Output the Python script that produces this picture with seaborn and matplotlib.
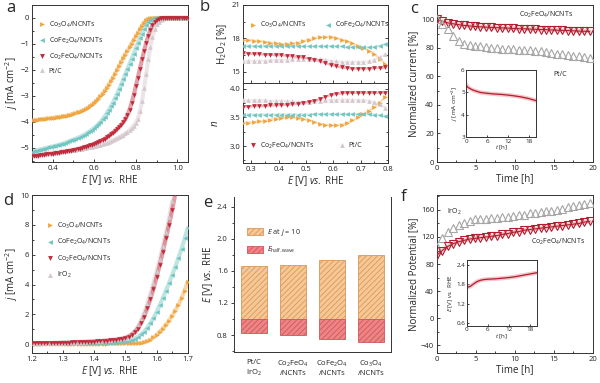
import numpy as np
import matplotlib
matplotlib.use("Agg")
import matplotlib.pyplot as plt
from matplotlib.ticker import AutoMinorLocator
from matplotlib.lines import Line2D
from matplotlib.patches import Patch
import seaborn as sns

# ---------------- data ----------------
cat_names = ["Co$_3$O$_4$/NCNTs", "CoFe$_2$O$_4$/NCNTs", "Co$_2$FeO$_4$/NCNTs", "Pt/C"]

# (a) ORR polarisation curves, E = 0.30 ... 1.05 V
E_orr = np.round(np.arange(0.30, 1.051, 0.01), 2)
j_orr_co3o4 = [-3.95, -3.94, -3.93, -3.92, -3.91, -3.90, -3.89, -3.88, -3.87, -3.86,
               -3.85, -3.84, -3.83, -3.82, -3.81, -3.79, -3.78, -3.76, -3.74, -3.72,
               -3.70, -3.67, -3.64, -3.61, -3.58, -3.55, -3.50, -3.45, -3.40, -3.34,
               -3.28, -3.20, -3.12, -3.02, -2.92, -2.82, -2.70, -2.58, -2.44, -2.30,
               -2.16, -2.01, -1.86, -1.71, -1.56, -1.41, -1.27, -1.13, -0.99, -0.85,
               -0.71, -0.57, -0.43, -0.30, -0.18, -0.09, -0.04, -0.02, -0.01, 0, 0, 0,
               0, 0, 0, 0, 0, 0, 0, 0, 0, 0, 0, 0, 0, 0]
j_orr_cofe2o4 = [-5.15, -5.13, -5.11, -5.09, -5.07, -5.05, -5.03, -5.01, -4.99, -4.97,
                 -4.95, -4.93, -4.91, -4.89, -4.86, -4.84, -4.81, -4.78, -4.75, -4.72,
                 -4.69, -4.66, -4.62, -4.59, -4.55, -4.51, -4.46, -4.41, -4.36, -4.30,
                 -4.24, -4.17, -4.09, -4.01, -3.91, -3.80, -3.68, -3.55, -3.41, -3.26,
                 -3.10, -2.93, -2.75, -2.56, -2.37, -2.17, -1.97, -1.77, -1.57, -1.37,
                 -1.17, -0.97, -0.78, -0.60, -0.43, -0.28, -0.16, -0.08, -0.04, -0.02,
                 -0.01, 0, 0, 0, 0, 0, 0, 0, 0, 0, 0, 0, 0, 0, 0, 0]
j_orr_co2feo4 = [-5.33, -5.32, -5.31, -5.30, -5.29, -5.28, -5.27, -5.26, -5.25, -5.24,
                 -5.23, -5.22, -5.21, -5.20, -5.18, -5.17, -5.15, -5.14, -5.12, -5.11,
                 -5.09, -5.07, -5.05, -5.03, -5.01, -4.99, -4.96, -4.94, -4.91, -4.88,
                 -4.85, -4.82, -4.78, -4.74, -4.70, -4.65, -4.60, -4.54, -4.48, -4.42,
                 -4.35, -4.27, -4.19, -4.11, -4.02, -3.90, -3.74, -3.53, -3.27, -2.97,
                 -2.64, -2.30, -1.95, -1.60, -1.27, -0.96, -0.69, -0.46, -0.28, -0.16,
                 -0.08, -0.04, -0.02, -0.01, 0, 0, 0, 0, 0, 0, 0, 0, 0, 0, 0, 0]
j_orr_ptc = [-5.28, -5.27, -5.26, -5.25, -5.24, -5.23, -5.22, -5.21, -5.20, -5.19,
             -5.18, -5.17, -5.16, -5.15, -5.14, -5.13, -5.12, -5.11, -5.10, -5.09,
             -5.08, -5.07, -5.06, -5.05, -5.04, -5.02, -5.01, -4.99, -4.98, -4.96,
             -4.94, -4.92, -4.90, -4.88, -4.86, -4.83, -4.80, -4.77, -4.74, -4.71,
             -4.67, -4.63, -4.59, -4.55, -4.50, -4.45, -4.39, -4.32, -4.24, -4.15,
             -4.04, -3.88, -3.60, -3.20, -2.70, -2.15, -1.60, -1.10, -0.72, -0.44,
             -0.25, -0.14, -0.08, -0.04, -0.02, -0.01, 0, 0, 0, 0, 0, 0, 0, 0, 0, 0]

# (b) RRDE: H2O2 yield and electron number, E = 0.27 ... 0.79 V
E_rrde = np.round(np.arange(0.27, 0.791, 0.02), 2)
h2o2_co3o4 = [17.9, 17.85, 17.8, 17.75, 17.7, 17.6, 17.55, 17.5, 17.5, 17.55, 17.6, 17.75,
              17.9, 18.0, 18.1, 18.15, 18.15, 18.05, 17.9, 17.75, 17.55, 17.35, 17.15,
              16.9, 16.6, 16.2, 15.7]
h2o2_cofe2o4 = [17.35, 17.35, 17.3, 17.3, 17.3, 17.3, 17.3, 17.3, 17.3, 17.3, 17.3, 17.3,
                17.3, 17.3, 17.3, 17.3, 17.3, 17.3, 17.3, 17.25, 17.25, 17.2, 17.2, 17.2,
                17.25, 17.35, 17.5]
h2o2_co2feo4 = [16.7, 16.65, 16.6, 16.6, 16.55, 16.55, 16.5, 16.5, 16.45, 16.4, 16.35, 16.3,
                16.2, 16.1, 15.95, 15.8, 15.65, 15.5, 15.4, 15.35, 15.3, 15.3, 15.3, 15.3,
                15.35, 15.35, 15.4]
h2o2_ptc = [16.0, 16.0, 16.0, 16.0, 16.0, 16.05, 16.05, 16.1, 16.1, 16.15, 16.2, 16.2,
            16.2, 16.2, 16.15, 16.1, 16.0, 15.95, 15.9, 15.9, 15.9, 15.9, 15.9, 15.95,
            16.1, 16.3, 16.6]
n_co3o4 = [3.41, 3.41, 3.42, 3.43, 3.44, 3.46, 3.48, 3.49, 3.50, 3.50, 3.49, 3.47, 3.45,
           3.42, 3.39, 3.37, 3.36, 3.36, 3.37, 3.40, 3.45, 3.50, 3.56, 3.62, 3.68, 3.76, 3.86]
n_cofe2o4 = [3.55, 3.55, 3.55, 3.55, 3.55, 3.55, 3.55, 3.55, 3.55, 3.55, 3.55, 3.55, 3.55,
             3.56, 3.56, 3.56, 3.56, 3.56, 3.56, 3.56, 3.56, 3.56, 3.56, 3.56, 3.55, 3.54, 3.52]
n_co2feo4 = [3.69, 3.69, 3.70, 3.70, 3.70, 3.71, 3.71, 3.72, 3.72, 3.73, 3.74, 3.75, 3.77,
             3.79, 3.82, 3.86, 3.89, 3.91, 3.92, 3.93, 3.93, 3.93, 3.93, 3.93, 3.93, 3.93, 3.93]
n_ptc = [3.80, 3.80, 3.80, 3.80, 3.80, 3.79, 3.79, 3.79, 3.78, 3.78, 3.77, 3.77, 3.77,
         3.78, 3.79, 3.80, 3.80, 3.81, 3.81, 3.81, 3.81, 3.80, 3.80, 3.79, 3.77, 3.73, 3.67]

# (c) ORR chronoamperometry, normalised current [%]
t_stab = np.round(np.arange(0, 19.61, 0.7), 1)
cur_co2feo4 = [100, 98.5, 97.5, 96.8, 96.2, 95.7, 95.3, 95.0, 94.7, 94.5, 94.3, 94.1, 93.9,
               93.8, 93.6, 93.4, 93.3, 93.1, 93.0, 92.8, 92.7, 92.5, 92.4, 92.2, 92.1, 91.9,
               91.7, 91.6, 91.5]
cur_ptc = [100, 97, 93, 88, 85, 83, 82, 81.5, 81, 80.5, 80, 80, 79.5, 79.5, 79, 78.8, 78.5,
           78.3, 78, 77.5, 77, 76.5, 76, 75.5, 75, 74.5, 74, 73.5, 73]
t_inset_c = [0, 0.3, 1, 2, 3, 4, 6, 8, 10, 12, 14, 16, 18, 20]
j_inset_c = [5.35, 5.25, 5.18, 5.10, 5.05, 5.00, 4.96, 4.93, 4.91, 4.88, 4.84, 4.79, 4.72, 4.63]

# (d) OER polarisation curves, E = 1.20 ... 1.70 V
E_oer = np.round(np.arange(1.20, 1.701, 0.01), 2)
j_oer_co3o4 = [0.04, 0.04, 0.04, 0.04, 0.04, 0.04, 0.04, 0.04, 0.04, 0.04,
               0.04, 0.04, 0.04, 0.04, 0.04, 0.04, 0.04, 0.04, 0.04, 0.04,
               0.04, 0.04, 0.04, 0.04, 0.04, 0.05, 0.05, 0.05, 0.05, 0.05,
               0.05, 0.05, 0.05, 0.06, 0.07, 0.08, 0.12, 0.20, 0.30, 0.45,
               0.62, 0.82, 1.05, 1.30, 1.58, 1.90, 2.25, 2.65, 3.10, 3.60, 4.20]
j_oer_cofe2o4 = [0.04, 0.04, 0.04, 0.05, 0.05, 0.05, 0.05, 0.05, 0.05, 0.06,
                 0.06, 0.06, 0.06, 0.06, 0.07, 0.07, 0.07, 0.07, 0.08, 0.08,
                 0.08, 0.08, 0.09, 0.09, 0.09, 0.10, 0.10, 0.11, 0.12, 0.13,
                 0.15, 0.20, 0.28, 0.38, 0.50, 0.65, 0.85, 1.10, 1.40, 1.75,
                 2.15, 2.60, 3.10, 3.60, 4.10, 4.65, 5.20, 5.80, 6.40, 7.10, 7.80]
j_oer_co2feo4 = [0.05, 0.05, 0.06, 0.06, 0.06, 0.07, 0.07, 0.08, 0.08, 0.09,
                 0.10, 0.10, 0.11, 0.12, 0.12, 0.13, 0.14, 0.15, 0.16, 0.17,
                 0.18, 0.19, 0.20, 0.22, 0.23, 0.25, 0.27, 0.29, 0.32, 0.37,
                 0.42, 0.50, 0.62, 0.80, 1.05, 1.40, 1.85, 2.40, 3.00, 3.70,
                 4.50, 5.30, 6.20, 7.10, 8.00, 9.00, 10.10]
j_oer_iro2 = [0.05, 0.06, 0.06, 0.07, 0.07, 0.08, 0.08, 0.09, 0.10, 0.10,
              0.11, 0.12, 0.13, 0.14, 0.15, 0.16, 0.17, 0.18, 0.19, 0.20,
              0.22, 0.23, 0.24, 0.26, 0.28, 0.30, 0.32, 0.35, 0.38, 0.41,
              0.45, 0.55, 0.70, 0.90, 1.20, 1.60, 2.10, 2.70, 3.40, 4.10,
              4.90, 5.70, 6.60, 7.50, 8.50, 9.60]

# (e) bifunctional potentials
e_cats = ["Pt/C\nIrO$_2$", "Co$_2$FeO$_4$\n/NCNTs", "CoFe$_2$O$_4$\n/NCNTs", "Co$_3$O$_4$\n/NCNTs"]
e_j10 = [1.66, 1.67, 1.73, 1.80]
e_half = [0.83, 0.80, 0.75, 0.72]
e_ref = 1.0

# (f) OER chronopotentiometry, normalised potential [%]
pot_iro2 = [105, 118, 127, 133, 138, 141, 144, 146, 147, 147, 148, 148, 149, 150, 151,
            152, 153, 155, 156, 157, 158, 159, 160, 162, 164, 166, 167, 169, 170]
pot_co2feo4 = [93, 100, 106, 110, 113, 115, 117, 118, 119, 120, 121, 122, 124, 125, 127,
               128, 130, 131, 132, 133, 134, 135, 136, 137, 138, 139, 140, 142, 143]
t_inset_f = [0, 0.5, 1, 2, 3, 4, 5, 6, 8, 10, 12, 14, 16, 18, 20]
E_inset_f = [1.76, 1.72, 1.74, 1.82, 1.89, 1.93, 1.95, 1.96, 1.97, 1.99, 2.01, 2.04, 2.08, 2.12, 2.16]

# ---------------- style ----------------
C_ORANGE = "#F0A540"
C_TEAL = "#72C6C2"
C_RED = "#C02A3B"
C_GREY = "#D4C7CD"
C_DARK = "#B01E2E"

sns.set_theme(style="ticks")
plt.rcParams["font.family"] = ["Open Sans", "DejaVu Sans"]
plt.rcParams.update({
    "mathtext.fontset": "custom",
    "mathtext.rm": "Open Sans",
    "mathtext.it": "Open Sans:italic",
    "mathtext.bf": "Open Sans:bold",
    "hatch.linewidth": 0.6,
    "axes.linewidth": 0.7,
})

LAB = 7
TICK = 5.5


def style_axis(ax, right=False, top=False, minor=True):
    ax.tick_params(which="both", direction="in", labelsize=TICK, colors="#222222",
                   width=0.6, right=right, top=top, pad=2)
    ax.tick_params(which="major", length=2.5)
    ax.tick_params(which="minor", length=1.5)
    if minor:
        ax.xaxis.set_minor_locator(AutoMinorLocator(2))
        ax.yaxis.set_minor_locator(AutoMinorLocator(2))
    for s in ax.spines.values():
        s.set_linewidth(0.7)
        s.set_color("#333333")


def dense_curve(ax, x, y, color, marker, ms=3.3):
    # fuzzy band of overlapping markers
    ax.plot(x, y, color=color, lw=3.0, alpha=0.45, solid_capstyle="round", zorder=2)
    sns.lineplot(x=x, y=y, ax=ax, color=color, marker=marker, markersize=ms,
                 markeredgewidth=0, linewidth=0, legend=False, zorder=3)


def marker_handle(color, marker, ms=3.5):
    return Line2D([], [], color=color, marker=marker, ls="none", markersize=ms, mew=0)


fig = plt.figure(figsize=(6, 3.83), dpi=100)
ax_a = fig.add_axes([0.053, 0.577, 0.26, 0.41])
ax_b1 = fig.add_axes([0.405, 0.783, 0.2417, 0.204])
ax_b2 = fig.add_axes([0.405, 0.574, 0.2417, 0.209])
ax_c = fig.add_axes([0.728, 0.577, 0.26, 0.41])
ax_d = fig.add_axes([0.053, 0.078, 0.26, 0.4125])
ax_e = fig.add_axes([0.39, 0.081, 0.262, 0.405])
ax_f = fig.add_axes([0.728, 0.078, 0.26, 0.4125])
ins_c = fig.add_axes([0.777, 0.642, 0.1167, 0.175])
ins_f = fig.add_axes([0.778, 0.149, 0.1167, 0.172])

# ---- (a) ----
dense_curve(ax_a, E_orr, j_orr_ptc, C_GREY, "^")
dense_curve(ax_a, E_orr, j_orr_co3o4, C_ORANGE, ">")
dense_curve(ax_a, E_orr, j_orr_cofe2o4, C_TEAL, "<")
dense_curve(ax_a, E_orr, j_orr_co2feo4, C_RED, "v")
ax_a.set_xlim(0.3, 1.05)
ax_a.set_ylim(-5.55, 0.5)
ax_a.set_xticks([0.4, 0.6, 0.8, 1.0])
ax_a.set_yticks([0, -1, -2, -3, -4, -5])
ax_a.set_xlabel("$E$ [V] $vs.$ RHE", fontsize=LAB, labelpad=1)
ax_a.set_ylabel("$j$ [mA cm$^{-2}$]", fontsize=LAB, labelpad=0)
style_axis(ax_a)
ax_a.legend([marker_handle(c, m) for c, m in zip([C_ORANGE, C_TEAL, C_RED, C_GREY], [">", "<", "v", "^"])],
            cat_names, loc="upper left", bbox_to_anchor=(0.02, 0.93), frameon=False, fontsize=5,
            handlelength=1.0, handletextpad=0.5, labelspacing=0.85, borderpad=0)

# ---- (b) ----
b_sets = [(C_ORANGE, ">", h2o2_co3o4, n_co3o4), (C_TEAL, "<", h2o2_cofe2o4, n_cofe2o4),
          (C_GREY, "^", h2o2_ptc, n_ptc), (C_RED, "v", h2o2_co2feo4, n_co2feo4)]
for col, mk, h, n in b_sets:
    for ax, y in ((ax_b1, h), (ax_b2, n)):
        ax.plot(E_rrde, y, color=col, lw=1.6, alpha=0.35, zorder=2)
        sns.lineplot(x=E_rrde, y=y, ax=ax, color=col, marker=mk, markersize=3.4,
                     markeredgewidth=0, linewidth=0, legend=False, zorder=3)
for ax in (ax_b1, ax_b2):
    ax.set_xlim(0.27, 0.80)
    style_axis(ax, right=True)
ax_b1.set_ylim(14, 21)
ax_b1.set_yticks([15, 18, 21])
ax_b1.tick_params(labelbottom=False)
ax_b1.set_ylabel("H$_2$O$_2$ [%]", fontsize=LAB, labelpad=2)
ax_b2.set_ylim(2.7, 4.1)
ax_b2.set_yticks([3.0, 3.5, 4.0])
ax_b2.set_xticks([0.3, 0.4, 0.5, 0.6, 0.7, 0.8])
ax_b2.set_xlabel("$E$ [V] $vs.$ RHE", fontsize=LAB, labelpad=1)
ax_b2.set_ylabel("$n$", fontsize=LAB, labelpad=6)
ax_b1.legend([marker_handle(C_ORANGE, ">"), marker_handle(C_TEAL, "<")], cat_names[:2],
             loc="center left", bbox_to_anchor=(0.02, 0.74), ncol=2, frameon=False, fontsize=5,
             handlelength=1.0, handletextpad=0.5, columnspacing=2.6, borderpad=0)
ax_b2.legend([marker_handle(C_RED, "v"), marker_handle(C_GREY, "^")], cat_names[2:],
             loc="center left", bbox_to_anchor=(0.02, 0.22), ncol=2, frameon=False, fontsize=5,
             handlelength=1.0, handletextpad=0.5, columnspacing=3.5, borderpad=0)

# ---- (c) ----
ax_c.plot(t_stab, cur_co2feo4, color="#F08A94", lw=3, alpha=0.5, zorder=2)
ax_c.plot(t_stab, cur_co2feo4, color=C_DARK, lw=0.8, zorder=3)
sns.lineplot(x=t_stab, y=cur_co2feo4, ax=ax_c, color=C_DARK, marker="v", markersize=5.5,
             markerfacecolor="none", markeredgecolor=C_DARK, markeredgewidth=0.8,
             linewidth=0, legend=False, zorder=4)
sns.lineplot(x=t_stab, y=cur_ptc, ax=ax_c, color="#A6A6A6", marker="^", markersize=5.5,
             markerfacecolor="none", markeredgecolor="#A6A6A6", markeredgewidth=0.8,
             linewidth=0, legend=False, zorder=4)
ax_c.set_xlim(0, 20)
ax_c.set_ylim(0, 110)
ax_c.set_xticks([0, 5, 10, 15, 20])
ax_c.set_yticks([0, 20, 40, 60, 80, 100])
ax_c.set_xlabel("Time [h]", fontsize=LAB, labelpad=1)
ax_c.set_ylabel("Normalized current [%]", fontsize=LAB, labelpad=1)
style_axis(ax_c)
ax_c.text(14, 103, "Co$_2$FeO$_4$/NCNTs", fontsize=5, ha="center", va="center")
ax_c.text(15.8, 61, "Pt/C", fontsize=5, ha="center", va="center")

ins_c.plot(t_inset_c, j_inset_c, color="#F08A94", lw=3, alpha=0.5)
sns.lineplot(x=t_inset_c, y=j_inset_c, ax=ins_c, color=C_DARK, lw=0.9, legend=False)
ins_c.set_xlim(0, 20)
ins_c.set_ylim(3, 6)
ins_c.set_xticks([0, 6, 12, 18])
ins_c.set_yticks([3, 4, 5, 6])
ins_c.set_xlabel("$t$ [h]", fontsize=4.5, labelpad=0)
ins_c.set_ylabel("$j$ [mA cm$^{-2}$]", fontsize=4.5, labelpad=1)
style_axis(ins_c, minor=False)
ins_c.tick_params(labelsize=4.5, length=1.5, pad=1)

# ---- (d) ----
dense_curve(ax_d, E_oer, j_oer_co3o4, C_ORANGE, ">")
dense_curve(ax_d, E_oer, j_oer_cofe2o4, C_TEAL, "<")
dense_curve(ax_d, E_oer[:len(j_oer_iro2)], j_oer_iro2, C_GREY, "^")
dense_curve(ax_d, E_oer[:len(j_oer_co2feo4)], j_oer_co2feo4, C_RED, "v")
ax_d.set_xlim(1.2, 1.7)
ax_d.set_ylim(-0.6, 10)
ax_d.set_xticks([1.2, 1.3, 1.4, 1.5, 1.6, 1.7])
ax_d.set_yticks([0, 2, 4, 6, 8, 10])
ax_d.set_xlabel("$E$ [V] $vs.$ RHE", fontsize=LAB, labelpad=1)
ax_d.set_ylabel("$j$ [mA cm$^{-2}$]", fontsize=LAB, labelpad=0)
style_axis(ax_d)
ax_d.legend([marker_handle(c, m) for c, m in zip([C_ORANGE, C_TEAL, C_RED, C_GREY], [">", "<", "v", "^"])],
            cat_names[:3] + ["IrO$_2$"], loc="upper left", bbox_to_anchor=(0.07, 0.86), frameon=False,
            fontsize=5, handlelength=1.0, handletextpad=0.5, labelspacing=0.9, borderpad=0)

# ---- (e) ----
xpos = np.arange(len(e_cats))
top_h = [v - e_ref for v in e_j10]
bot_h = [e_ref - v for v in e_half]
ax_e.bar(xpos, top_h, bottom=e_ref, width=0.67, color="#F7C896", edgecolor="#D89858",
         hatch="//////", linewidth=0.6, zorder=2)
ax_e.bar(xpos, bot_h, bottom=e_half, width=0.67, color="#EE8585", edgecolor="#D0555C",
         hatch="//////", linewidth=0.6, zorder=2)
ax_e.set_xlim(-0.51, 3.51)
ax_e.set_ylim(0.59, 2.52)
ax_e.set_yticks([0.8, 1.2, 1.6, 2.0, 2.4])
ax_e.set_xticks(xpos)
ax_e.set_xticklabels(e_cats, fontsize=5.2, linespacing=1.2)
ax_e.set_ylabel("$E$ [V] $vs.$ RHE", fontsize=LAB, labelpad=1)
style_axis(ax_e, minor=False)
ax_e.yaxis.set_minor_locator(AutoMinorLocator(2))
ax_e.tick_params(axis="y", which="both", direction="out")
ax_e.tick_params(axis="x", length=0, pad=5)
ax_e.spines["top"].set_visible(False)
ax_e.legend([Patch(facecolor="#F7C896", edgecolor="#D89858", hatch="//////", lw=0.6),
             Patch(facecolor="#EE8585", edgecolor="#D0555C", hatch="//////", lw=0.6)],
            ["$E$ at $j$ = 10", "$E_{\\mathrm{half\u2010wave}}$"], loc="upper left",
            bbox_to_anchor=(0.06, 0.83), frameon=False, fontsize=5.2, handlelength=2.2,
            handleheight=1.2, handletextpad=0.5, labelspacing=1.0, borderpad=0)

# ---- (f) ----
sns.lineplot(x=t_stab, y=pot_iro2, ax=ax_f, color="#A6A6A6", marker="^", markersize=5.5,
             markerfacecolor="none", markeredgecolor="#A6A6A6", markeredgewidth=0.8,
             linewidth=0, legend=False, zorder=4)
ax_f.plot(t_stab, pot_co2feo4, color="#F08A94", lw=3, alpha=0.5, zorder=2)
ax_f.plot(t_stab, pot_co2feo4, color=C_DARK, lw=0.8, zorder=3)
sns.lineplot(x=t_stab, y=pot_co2feo4, ax=ax_f, color=C_DARK, marker="v", markersize=5.5,
             markerfacecolor="none", markeredgecolor=C_DARK, markeredgewidth=0.8,
             linewidth=0, legend=False, zorder=4)
ax_f.set_xlim(0, 20)
ax_f.set_ylim(-52, 182)
ax_f.set_xticks([0, 5, 10, 15, 20])
ax_f.set_yticks([-40, 0, 40, 80, 120, 160])
ax_f.set_xlabel("Time [h]", fontsize=LAB, labelpad=1)
ax_f.set_ylabel("Normalized Potential [%]", fontsize=LAB, labelpad=1)
style_axis(ax_f)
ax_f.text(2.3, 157, "IrO$_2$", fontsize=5, ha="center", va="center")
ax_f.text(15.6, 113, "Co$_2$FeO$_4$/NCNTs", fontsize=5, ha="center", va="center")

ins_f.plot(t_inset_f, E_inset_f, color="#F08A94", lw=3, alpha=0.5)
sns.lineplot(x=t_inset_f, y=E_inset_f, ax=ins_f, color=C_DARK, lw=0.9, legend=False)
ins_f.set_xlim(0, 20)
ins_f.set_ylim(0.52, 2.55)
ins_f.set_xticks([0, 6, 12, 18])
ins_f.set_yticks([0.6, 1.2, 1.8, 2.4])
ins_f.set_xlabel("$t$ [h]", fontsize=4.5, labelpad=0)
ins_f.set_ylabel("$E$ [V] $vs.$ RHE", fontsize=4.5, labelpad=1)
style_axis(ins_f, minor=False)
ins_f.tick_params(labelsize=4.5, length=1.5, pad=1)

# ---- panel letters ----
for letter, (px, py) in {"a": (11, 8), "b": (205, 7), "c": (414, 9),
                         "d": (8, 201), "e": (208, 203), "f": (404, 197)}.items():
    fig.text(px / 600, 1 - py / 383, letter, fontsize=12, ha="center", va="center")

fig.savefig("out.png", dpi=100)
